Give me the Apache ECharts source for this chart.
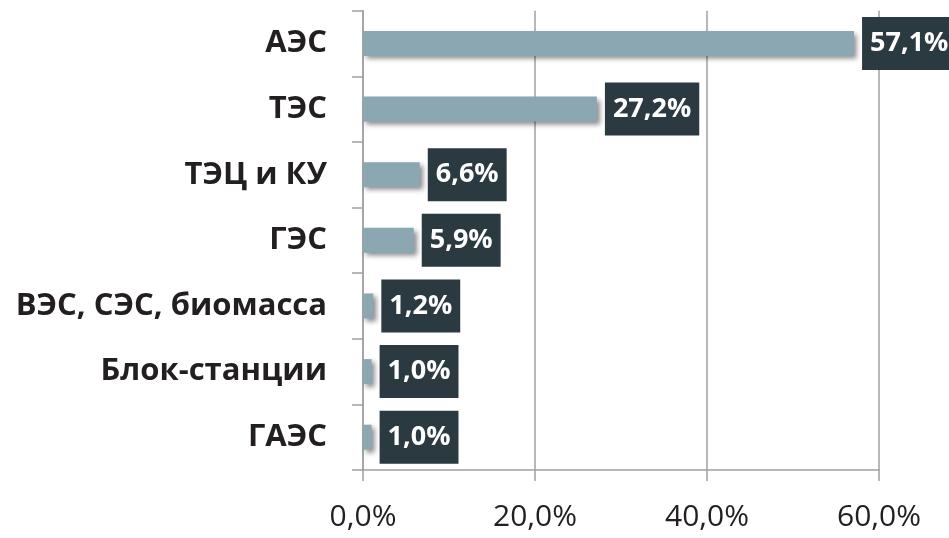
<!DOCTYPE html>
<html><head><meta charset="utf-8">
<script src="https://cdn.jsdelivr.net/npm/echarts@6/dist/echarts.min.js"></script>
<style>html,body{margin:0;padding:0;background:#fff}#c{width:949px;height:538px}</style>
</head><body><div id="c"></div>
<script>
const categories = ['АЭС', 'ТЭС', 'ТЭЦ и КУ', 'ГЭС', 'ВЭС, СЭС, биомасса', 'Блок-станции', 'ГАЭС'];
const values = [57.1, 27.2, 6.6, 5.9, 1.2, 1.0, 1.0];
const xTicks = [0, 20, 40, 60];

const fmt = v => v.toFixed(1).replace('.', ',') + '%';
const chart = echarts.init(document.getElementById('c'), null, {renderer: 'canvas'});
chart.setOption({
  animation: false,
  grid: {left: 363, right: 70, top: 10.7, bottom: 68, containLabel: false},
  xAxis: {
    type: 'value', min: xTicks[0], max: xTicks[xTicks.length - 1], interval: 20,
    axisLine: {show: true, lineStyle: {color: '#a0a0a0', width: 1.5}},
    axisTick: {show: true, length: 11, lineStyle: {color: '#a0a0a0', width: 1.5}},
    splitLine: {show: true, lineStyle: {color: '#a0a0a0', width: 1.5}},
    axisLabel: {margin: 32, fontSize: 30, color: '#231f20', fontFamily: 'Open Sans', formatter: v => fmt(v)}
  },
  yAxis: {
    type: 'category', data: categories, inverse: true,
    axisLine: {show: true, lineStyle: {color: '#a0a0a0', width: 1.5}},
    axisTick: {show: true, length: 11, lineStyle: {color: '#a0a0a0', width: 1.5}},
    axisLabel: {margin: 36, fontSize: 31, fontWeight: 'bold', color: '#231f20', fontFamily: 'Open Sans'}
  },
  series: [{
    type: 'bar', data: values, barWidth: 25,
    itemStyle: {color: '#8ba8b2', shadowBlur: 5, shadowOffsetX: 3, shadowOffsetY: 3, shadowColor: 'rgba(0,0,0,0.45)'},
    label: {
      show: true, position: 'right', distance: 8,
      formatter: p => fmt(p.value),
      backgroundColor: '#2b3a41', color: '#fff', fontWeight: 'bold', fontSize: 27,
      fontFamily: 'Open Sans', lineHeight: 37, padding: [8, 8, 8, 8]
    }
  }]
});
</script></body></html>
